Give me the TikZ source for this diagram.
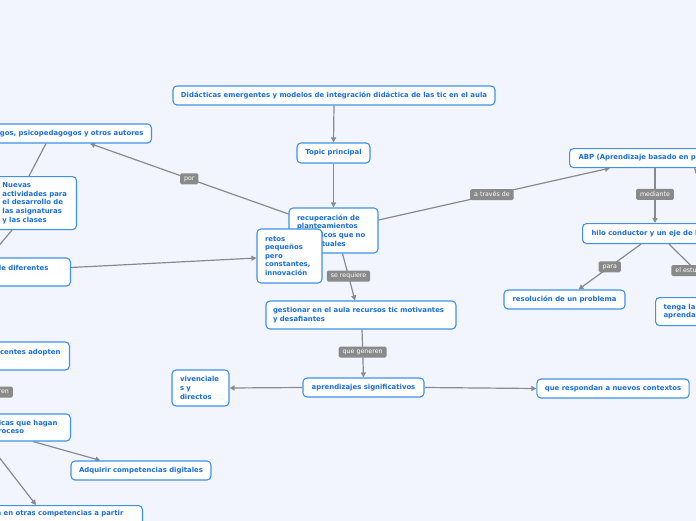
\documentclass[tikz,border=0pt]{standalone}
\usepackage{fontspec}
\setmainfont{DejaVu Sans}
\usetikzlibrary{arrows.meta,backgrounds}
\definecolor{bgc}{RGB}{242,245,254}
\definecolor{bord}{RGB}{64,145,230}
\definecolor{txt}{RGB}{26,110,214}
\definecolor{edg}{RGB}{138,138,142}
\definecolor{lblc}{RGB}{138,138,138}
\tikzset{
  box/.style={draw=bord, fill=white, line width=1.1pt, rounded corners=4pt, text=txt,
    font=\fontsize{6.9}{8.6}\selectfont\bfseries, align=left, inner xsep=8pt, inner ysep=3pt},
  edge/.style={draw=edg, line width=1.2pt, -{Triangle[length=5pt,width=5pt]}},
  plainedge/.style={draw=edg, line width=1.2pt},
  lbl/.style={fill=lblc, text=white, rounded corners=1.5pt, font=\fontsize{6.3}{7}\selectfont,
    inner xsep=4pt, inner ysep=2.5pt, text height=4.6pt, text depth=1.4pt}
}
\begin{document}
\begin{tikzpicture}[x=1pt,y=-1pt]
\useasboundingbox (0,0) rectangle (696,520);
% nodes
\node[box, minimum width=322pt, minimum height=19pt] (title) at (334,95.5)
  {Didácticas emergentes y modelos de integración didáctica de las tic en el aula};
\node[box, minimum width=73pt, minimum height=20pt] (topic) at (333.5,153) {Topic principal};
\node[box, text width=73pt, minimum height=45pt] (recup) at (333.5,230.5)
  {recuperación de\\planteamientos\\didácticos que no\\son actuales};
\node[box, text width=49pt, minimum height=54pt] (retos) at (289.5,256)
  {retos\\pequeños\\pero\\constantes,\\innovación};
\node[box, anchor=east, minimum height=19pt] (pedag) at (152,133.5)
  {Pedagogos, psicopedagogos y otros autores};
\node[box, anchor=north east, inner xsep=7pt, text width=67pt, minimum height=53pt] (nuevas) at (77,176)
  {Nuevas\\actividades para\\el desarrollo de\\las asignaturas\\y las clases};
\node[box, anchor=east, inner xsep=22pt, minimum height=28pt] (dif) at (71,272)
  {Aportes de diferentes\\autores};
\node[box, anchor=east, inner xsep=9pt, minimum height=28pt] (doc) at (70,356)
  {Que los docentes adopten\\roles};
\node[box, anchor=east, inner xsep=13pt, minimum height=27pt] (icas) at (71,427.5)
  {Estrategias didácticas que hagan\\más dinámico el proceso};
\node[box, minimum width=140pt, minimum height=19pt] (adq) at (141,470.5) {Adquirir competencias digitales};
\node[box, anchor=north east, inner xsep=19pt, inner ysep=5pt] (bot) at (143,505)
  {Profundiza en otras competencias a partir\\de las TIC};
\node[box, anchor=north west, inner xsep=9pt, minimum height=19pt] (abp) at (569,148)
  {ABP (Aprendizaje basado en proyectos)};
\node[box, anchor=north west, inner xsep=9pt, minimum height=20pt] (hilo) at (582,223)
  {hilo conductor y un eje de las actividades};
\node[box, minimum width=121pt, minimum height=19pt] (resol) at (564.5,299.5) {resolución de un problema};
\node[box, anchor=north west, minimum height=28pt] (tenga) at (655,297)
  {tenga la oportunidad de\\aprendan};
\node[box, inner xsep=7pt, text width=176pt, minimum height=28pt] (gest) at (361,315)
  {gestionar en el aula recursos tic motivantes\\y desafiantes};
\node[box, minimum width=121pt, minimum height=19pt] (aprend) at (363.5,387.5) {aprendizajes significativos};
\node[box, text width=41pt, minimum height=36pt] (viv) at (200.5,388) {vivenciale\\s y\\directos};
\node[box, minimum width=152pt, minimum height=19pt] (resp) at (613,388.5) {que respondan a nuevos contextos};
\coordinate (offabp) at (716,192);
% connectors
\begin{scope}[on background layer]
\fill[bgc] (-10,-10) rectangle (706,530);
\draw[edge] (title.south) -- (topic.north);
\draw[edge] (topic.south) -- (recup.north);
\draw[edge] ([yshift=16.5pt]recup.west) -- node[lbl, pos=0.5] {por} ([xshift=-62pt]pedag.south east);
\draw[plainedge] ([xshift=-106pt]pedag.south east) -- ([xshift=-48pt]nuevas.north east);
\draw[plainedge] ([xshift=-65pt]nuevas.south east) -- ([xshift=-82pt]dif.north east);
\draw[edge] ([yshift=4.5pt]dif.east) -- ([yshift=-2pt]retos.west);
\draw[edge] ([yshift=10.5pt]recup.east) -- node[lbl, pos=0.49] {a través de} ([xshift=41pt]abp.south west);
\draw[edge] (offabp) -- ([xshift=125pt]abp.south west);
\draw[edge] ([xshift=86pt]abp.south west) -- node[lbl, pos=0.48] {mediante} ([xshift=73pt]hilo.north west);
\draw[edge] ([xshift=59pt]hilo.south west) -- node[lbl, pos=0.5] {para} ([xshift=75pt]resol.north west);
\draw[edge] ([xshift=87pt]hilo.south west) -- node[lbl, pos=0.5] {el estudiante} ([xshift=68pt]tenga.north west);
\draw[edge] ([xshift=9pt]recup.south) -- node[lbl, pos=0.48] {se requiere} ([xshift=-6pt]gest.north);
\draw[edge] ([xshift=1pt]gest.south) -- node[lbl, pos=0.47] {que generen} (aprend.north);
\draw[edge] (aprend.west) -- (viv.east);
\draw[edge] (aprend.east) -- (resp.west);
\draw[edge] ([xshift=-81pt]doc.south east) -- node[lbl, pos=0.5] {que generen} ([xshift=-82pt]icas.north east);
\draw[edge] ([xshift=-38pt]icas.south east) -- ([xshift=30pt]adq.north west);
\draw[edge] ([xshift=-84pt]icas.south east) -- ([xshift=-107pt]bot.north east);
\end{scope}
\end{tikzpicture}
\end{document}
